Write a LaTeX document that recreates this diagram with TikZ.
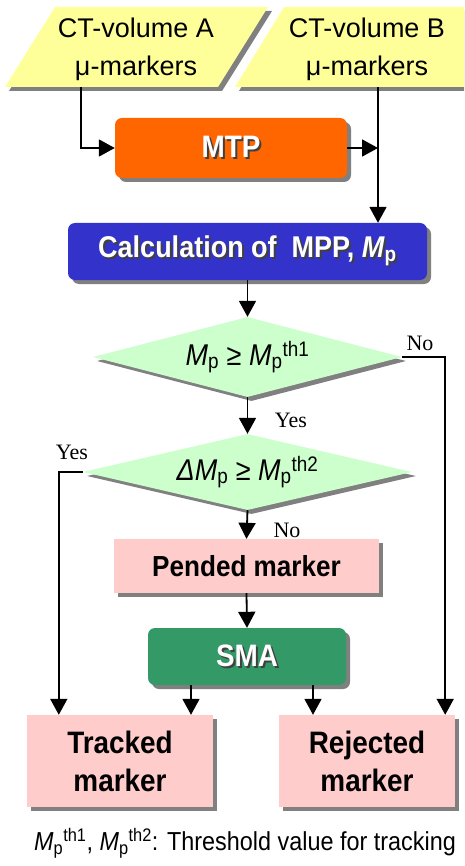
\documentclass[tikz,border=0pt]{standalone}
\usepackage{fontspec}
\setmainfont{Liberation Sans}
\newfontfamily\cond[FakeStretch=0.9]{Liberation Sans}
\newfontfamily\serifl{Liberation Serif}
\usetikzlibrary{arrows.meta,shadows,shapes.geometric}
\definecolor{cyel}{HTML}{FFFF99}
\definecolor{corange}{HTML}{FF6600}
\definecolor{cblue}{HTML}{3333CC}
\definecolor{cdia}{HTML}{CCFFCC}
\definecolor{cpink}{HTML}{FFCCCC}
\definecolor{cgreen}{HTML}{339966}
\newcommand\wsh[1]{\makebox[0pt][l]{\kern2pt\raisebox{-2pt}{\color{black!75}#1}}#1}
\newcommand\Mp{\textit{M}\textsubscript{p}}
\tikzset{
  arr/.style={-{Triangle[width=17pt,length=16pt]}, line width=1.8pt},
  shad/.style={drop shadow={shadow xshift=4pt,shadow yshift=-4pt,fill=black!50,opacity=1}},
  boxbase/.style={shad, draw=none, inner sep=0pt, align=center},
  rbox/.style={boxbase, rounded corners=7pt, text=white, font=\cond\bfseries\fontsize{31}{34}\selectfont},
  pbox/.style={boxbase, fill=cpink, font=\cond\bfseries\fontsize{31}{38}\selectfont},
  dia/.style={shape=diamond, shad, fill=cdia, draw=none, inner sep=0pt, font=\cond\fontsize{30}{32}\selectfont},
  lab/.style={font=\serifl\fontsize{22}{24}\selectfont},
  intxt/.style={align=center, font=\fontsize{27}{38}\selectfont}
}
\begin{document}
\begin{tikzpicture}[x=1pt,y=-1pt]
\useasboundingbox (0,0) rectangle (464,866);
\clip (0,0) rectangle (464,866);
% inputs
\fill[cyel, shad] (5,87) -- (55,7) -- (268,7) -- (218,87) -- cycle;
\fill[cyel, shad] (235,87) -- (284,7) -- (514,7) -- (465,87) -- cycle;
\node[intxt] (ina) at (136,49) {CT-volume A\\μ-markers};
\node[intxt] (inb) at (367,49) {CT-volume B\\μ-markers};
\coordinate (aout) at (81,87);
\coordinate (bout) at (378,87);
% boxes
\node[rbox, fill=corange, minimum width=232pt, minimum height=60pt] (mtp) at (231,148) {\wsh{MTP}};
\node[rbox, fill=cblue, minimum width=359pt, minimum height=57pt, font=\cond\bfseries\fontsize{30}{34}\selectfont] (calc) at (247.5,251.5) {\wsh{Calculation of\ \ MPP, \Mp}};
\node[dia, shape aspect=3.86, minimum width=309pt, minimum height=80pt] (d1) at (247.5,357) {\raisebox{-3pt}{\Mp\ ≥ \Mp\textsuperscript{th1}}};
\node[dia, shape aspect=4.33, minimum width=329pt, minimum height=76pt] (d2) at (247.5,472) {\textit{Δ}\Mp\ ≥ \Mp\textsuperscript{th2}};
\node[pbox, minimum width=265pt, minimum height=54pt, font=\cond\bfseries\fontsize{29}{34}\selectfont] (pend) at (246.5,566) {Pended marker};
\node[rbox, fill=cgreen, minimum width=198pt, minimum height=57pt] (sma) at (247,656.5) {\wsh{SMA}};
\node[pbox, minimum width=186pt, minimum height=92pt] (trk) at (120,761) {Tracked\\marker};
\node[pbox, minimum width=176pt, minimum height=92pt] (rej) at (367,761) {Rejected\\marker};
% connectors
\draw[arr] (aout) |- (mtp.west);
\draw[arr] (mtp.east) -- (bout |- mtp.east);
\draw[arr] (bout) -- (bout |- calc.north);
\draw[arr] (calc.south) -- (d1.north);
\coordinate (rejin) at ([xshift=-10pt]rej.north east);
\draw[arr] (d1.east) -| (rejin);
\draw[arr] (d1.south) -- (d2.north);
\coordinate (trkin) at ([xshift=32pt]trk.north west);
\draw[arr] (d2.west) -| (trkin);
\draw[arr] (d2.south) -- (pend.north);
\draw[arr] (pend.south) -- (sma.north);
\coordinate (smal) at ([xshift=-56pt]sma.south);
\coordinate (smar) at ([xshift=66pt]sma.south);
\draw[arr] (smal) -- (smal |- trk.north);
\draw[arr] (smar) -- (smar |- rej.north);
% labels
\node[lab] (lno1) at (420,343) {No};
\node[lab] (lyes1) at (291,420) {Yes};
\node[lab] (lyes2) at (72,452) {Yes};
\node[lab] (lno2) at (287,530) {No};
\node[font=\cond\fontsize{26}{28}\selectfont] (cap) at (245,843) {\Mp\textsuperscript{th1}, \Mp\textsuperscript{th2}: Threshold value for tracking};
\end{tikzpicture}
\end{document}
